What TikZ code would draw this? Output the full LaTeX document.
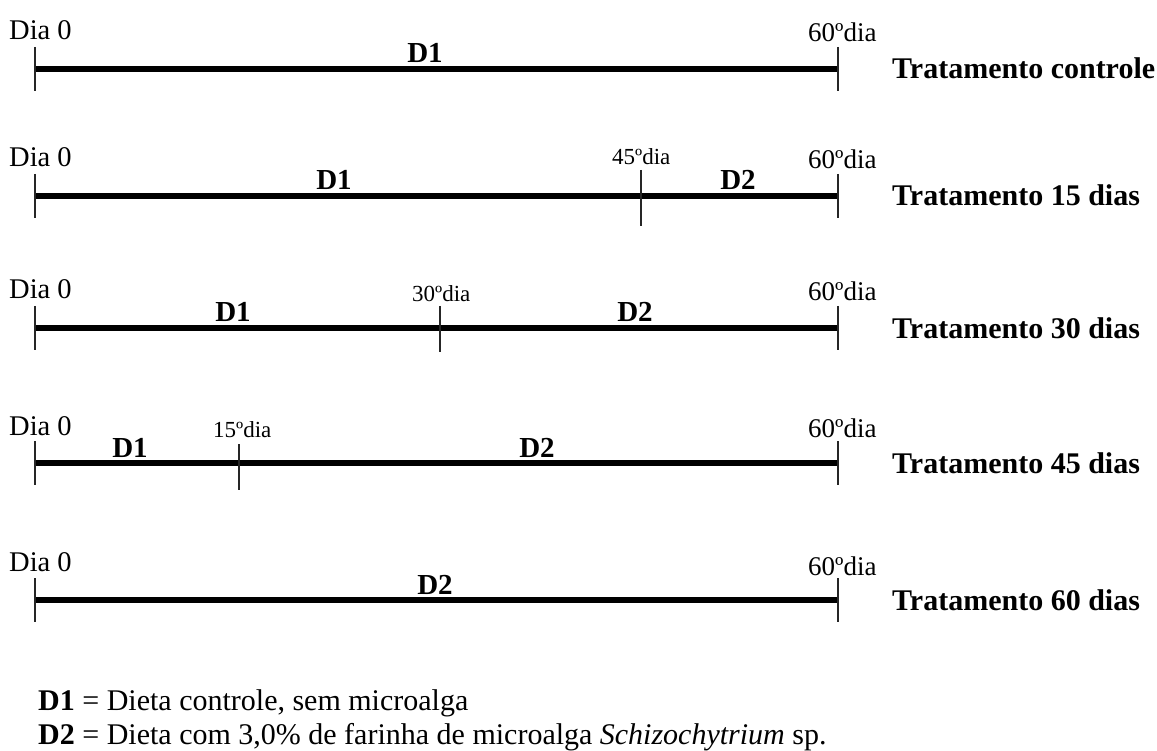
\documentclass[tikz,border=0pt]{standalone}
\usepackage{fontspec}
\setmainfont{Liberation Serif}
\tikzset{
  lbl/.style={anchor=base west, inner sep=0pt, font=\fontsize{28.5}{30}\selectfont},
  endlbl/.style={anchor=base west, inner sep=0pt, font=\fontsize{27}{29}\selectfont},
  small/.style={anchor=base west, inner sep=0pt, font=\fontsize{23}{25}\selectfont},
  diet/.style={anchor=base, inner sep=0pt, font=\bfseries\fontsize{29}{31}\selectfont},
  trat/.style={anchor=base west, inner sep=0pt, font=\bfseries\fontsize{30}{32}\selectfont},
  legend/.style={anchor=base west, inner sep=0pt, font=\fontsize{30}{33}\selectfont},
  axis/.style={line width=5.5pt},
  tick/.style={line width=1.8pt, draw=black!85}
}
\begin{document}
\begin{tikzpicture}[x=1pt,y=-1pt]
\useasboundingbox (0,0) rectangle (1157,751);
% Row 1
\coordinate (a1) at (35,69); \coordinate (b1) at (838,69);
\draw[axis] (a1) -- (b1);
\draw[tick] ([yshift=22pt]a1) -- ([yshift=-22pt]a1);
\draw[tick] ([yshift=22pt]b1) -- ([yshift=-22pt]b1);
\node[lbl] (s1) at (9,40) {Dia 0};
\node[endlbl] (e1) at (808,42) {60ºdia};
\node[diet] (d11) at (425,63) {D1};
\node[trat] (t1) at (892,79) {Tratamento controle};
% Row 2
\coordinate (a2) at (35,196); \coordinate (b2) at (838,196); \coordinate (m2) at (641,196);
\draw[axis] (a2) -- (b2);
\draw[tick] ([yshift=22pt]a2) -- ([yshift=-22pt]a2);
\draw[tick] ([yshift=22pt]b2) -- ([yshift=-22pt]b2);
\draw[tick] ([yshift=26pt]m2) -- ([yshift=-30pt]m2);
\node[lbl] (s2) at (9,167) {Dia 0};
\node[small] (k2) at (612,165) {45ºdia};
\node[endlbl] (e2) at (808,169) {60ºdia};
\node[diet] (d12) at (334,190) {D1};
\node[diet] (d22) at (738,190) {D2};
\node[trat] (t2) at (892,206) {Tratamento 15 dias};
% Row 3
\coordinate (a3) at (35,328); \coordinate (b3) at (838,328); \coordinate (m3) at (440,328);
\draw[axis] (a3) -- (b3);
\draw[tick] ([yshift=22pt]a3) -- ([yshift=-22pt]a3);
\draw[tick] ([yshift=22pt]b3) -- ([yshift=-22pt]b3);
\draw[tick] ([yshift=22pt]m3) -- ([yshift=-24pt]m3);
\node[lbl] (s3) at (9,299) {Dia 0};
\node[small] (k3) at (412,302) {30ºdia};
\node[endlbl] (e3) at (808,301) {60ºdia};
\node[diet] (d13) at (233,322) {D1};
\node[diet] (d23) at (635,322) {D2};
\node[trat] (t3) at (892,338) {Tratamento 30 dias};
% Row 4
\coordinate (a4) at (35,463); \coordinate (b4) at (838,463); \coordinate (m4) at (239,463);
\draw[axis] (a4) -- (b4);
\draw[tick] ([yshift=22pt]a4) -- ([yshift=-22pt]a4);
\draw[tick] ([yshift=22pt]b4) -- ([yshift=-22pt]b4);
\draw[tick] ([yshift=19pt]m4) -- ([yshift=-27pt]m4);
\node[lbl] (s4) at (9,435) {Dia 0};
\node[small] (k4) at (213,437) {15ºdia};
\node[endlbl] (e4) at (808,437) {60ºdia};
\node[diet] (d14) at (130,457) {D1};
\node[diet] (d24) at (537,457) {D2};
\node[trat] (t4) at (892,473) {Tratamento 45 dias};
% Row 5
\coordinate (a5) at (35,600); \coordinate (b5) at (838,600);
\draw[axis] (a5) -- (b5);
\draw[tick] ([yshift=22pt]a5) -- ([yshift=-22pt]a5);
\draw[tick] ([yshift=22pt]b5) -- ([yshift=-22pt]b5);
\node[lbl] (s5) at (9,571) {Dia 0};
\node[endlbl] (e5) at (808,575) {60ºdia};
\node[diet] (d25) at (435,594) {D2};
\node[trat] (t5) at (892,610) {Tratamento 60 dias};
% Legend
\node[legend] (l1) at (38,710) {\textbf{D1} = Dieta controle, sem microalga};
\node[legend] (l2) at (38,744) {\textbf{D2} = Dieta com 3,0\% de farinha de microalga \textit{Schizochytrium} sp.};
\end{tikzpicture}
\end{document}
